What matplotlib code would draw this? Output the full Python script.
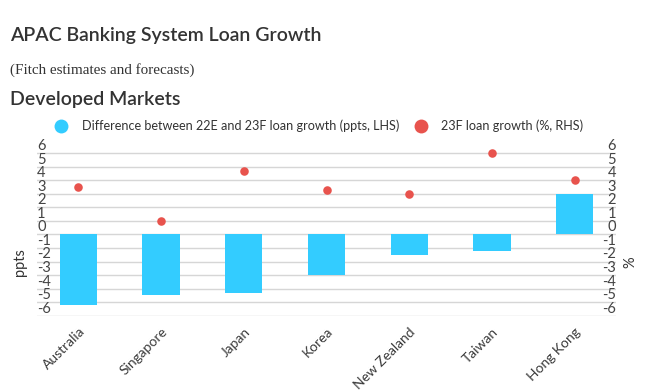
import matplotlib.pyplot as plt
from matplotlib.lines import Line2D

# ---------------------------------------------------------------------------
# Data
# ---------------------------------------------------------------------------
markets = ["Australia", "Singapore", "Japan", "Korea", "New Zealand", "Taiwan", "Hong Kong"]
growth_diff = [-5.2, -4.5, -4.3, -3.0, -1.5, -1.2, 3.0]     # ppts, LHS
growth_23f = [3.5, 1.0, 4.7, 3.3, 3.0, 6.0, 4.0]            # %, RHS
tick_values = list(range(6, -7, -1))

BLUE = "#33ccff"
RED = "#e8534d"
GRID = "#d6d6d6"
TEXT = "#333333"

plt.rcParams["font.family"] = ["Lato", "DejaVu Sans"]

fig = plt.figure(figsize=(6.48, 3.92), dpi=100)
W, H = 648, 392


def fx(px):
    return px / W


def fy(py):
    return 1 - py / H


# axes: x from 37 to 616 px, y grid -6 at 315.7 px, spacing 13.55 px
y_lo, y_hi = -6, 6.7
bottom_px, step = 315.7, 13.55
top_px = bottom_px - (y_hi - y_lo) * step
ax = fig.add_axes([fx(37), fy(bottom_px), fx(616) - fx(37), fy(top_px) - fy(bottom_px)])
ax2 = ax.twinx()

x = list(range(len(markets)))
ax.bar(x, growth_diff, width=0.45, color=BLUE, zorder=2)
ax2.scatter(x, growth_23f, s=38, color=RED, zorder=3, linewidths=0)

for a in (ax, ax2):
    a.set_ylim(y_lo, y_hi)
    a.set_yticks(tick_values)
    a.set_yticklabels([])
    a.tick_params(axis="y", length=0)
    for s in a.spines.values():
        s.set_visible(False)
ax.set_xlim(-0.5, 6.5)
ax.grid(axis="y", color=GRID, lw=1, zorder=0)
ax.set_axisbelow(True)

# tick labels sit just above their gridlines
for v in tick_values:
    ax.text(0.0, v, str(v), transform=ax.get_yaxis_transform(), ha="left",
            va="bottom", fontsize=10.5, color="#444444", zorder=1)
    ax.text(1.0, v, str(v), transform=ax.get_yaxis_transform(), ha="right",
            va="bottom", fontsize=10.5, color="#444444", zorder=1)

ax.set_xticks(x)
ax.set_xticklabels(markets, rotation=45, ha="right", rotation_mode="anchor",
                   fontsize=10, color="#3a3a3a")
ax.tick_params(axis="x", length=0, pad=7)

fig.text(fx(20), fy(262), "ppts", rotation=90, ha="center", va="center",
         fontsize=10.5, color=TEXT)
fig.text(fx(630), fy(262), "%", rotation=90, ha="center", va="center",
         fontsize=10.5, color=TEXT)

# titles
fig.text(fx(10), fy(36), "APAC Banking System Loan Growth", ha="left", va="center",
         fontsize=14, fontweight="semibold", color=TEXT)
fig.text(fx(10), fy(70), "(Fitch estimates and forecasts)", ha="left", va="center",
         fontsize=10.9, family=["Liberation Serif", "DejaVu Serif"], color=TEXT)
fig.text(fx(10), fy(99), "Developed Markets", ha="left", va="center",
         fontsize=14, fontweight="semibold", color=TEXT)

# legend
fig.add_artist(Line2D([fx(61)], [fy(126)], marker="o", ms=10, color=BLUE,
                      mec="none", transform=fig.transFigure))
fig.text(fx(82), fy(126), "Difference between 22E and 23F loan growth (ppts, LHS)",
         ha="left", va="center", fontsize=9.1, color=TEXT)
fig.add_artist(Line2D([fx(421)], [fy(126)], marker="o", ms=10, color=RED,
                      mec="none", transform=fig.transFigure))
fig.text(fx(441), fy(126), "23F loan growth (%, RHS)",
         ha="left", va="center", fontsize=9.1, color=TEXT)

fig.savefig("out.png", dpi=100)
